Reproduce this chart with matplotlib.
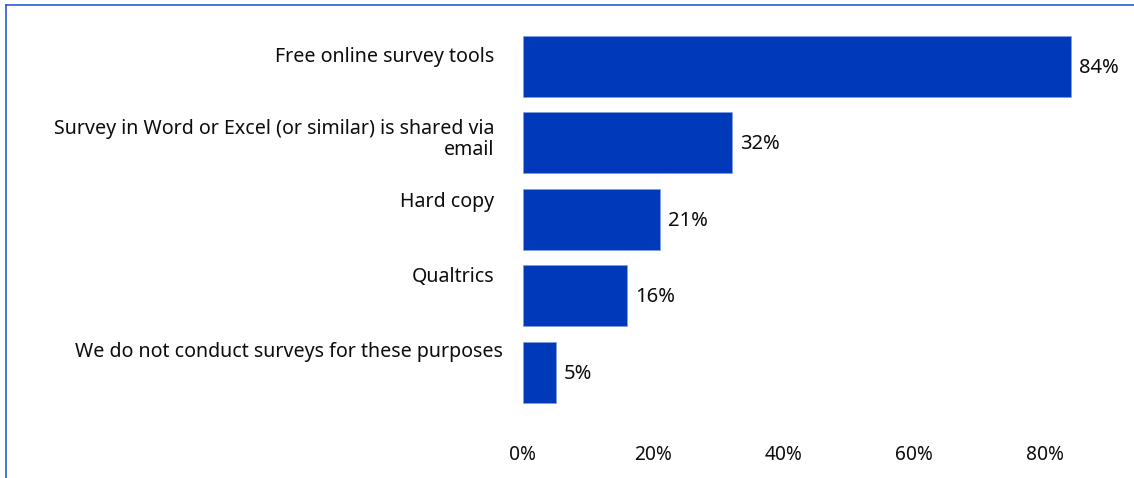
import matplotlib
matplotlib.use('Agg')
import matplotlib.pyplot as plt
from matplotlib.lines import Line2D

# data
categories = ['Free online survey tools',
              'Survey in Word or Excel (or similar) is shared via\nemail',
              'Hard copy',
              'Qualtrics',
              'We do not conduct surveys for these purposes']
values = [84, 32, 21, 16, 5]
ticks = [0, 20, 40, 60, 80]

# label placement (pixels): shift left from axis, shift up from bar centre
label_dx = [-29, -29, -29, -29, -20]
label_dy = [19.5, 23.5, 27.5, 28.5, 30.5]

bar_color = '#0039B9'
text_color = '#0d0d0d'
plt.rcParams['font.family'] = ['Noto Sans', 'DejaVu Sans']

fig = plt.figure(figsize=(11.34, 4.78), dpi=100)
W, H = 1134, 478
ax = fig.add_axes([523 / W, (478 - 410.3) / H, 587 / W, 382 / H])

y = list(range(len(values)))
ax.barh(y, values, height=0.8, color=bar_color, edgecolor='#7f9de0', linewidth=0.4)
ax.set_ylim(len(values) - 0.5, -0.5)
ax.set_xlim(0, 90)

# value labels
for i, v in enumerate(values):
    ax.annotate(f'{v}%', xy=(v, i), xytext=(8, -1.5), textcoords='offset pixels',
                ha='left', va='center', fontsize=14.5, color=text_color)

# category labels
for i, c in enumerate(categories):
    ax.annotate(c, xy=(0, i), xytext=(label_dx[i], label_dy[i]), textcoords='offset pixels',
                ha='right', va='top', fontsize=14.1, color=text_color, linespacing=1.04,
                multialignment='right', annotation_clip=False)

ax.set_xticks(ticks)
ax.set_xticklabels([f'{t}%' for t in ticks], fontsize=13.8, color=text_color)
ax.tick_params(axis='x', length=0, pad=25)
ax.set_yticks([])
for s in ax.spines.values():
    s.set_visible(False)

# frame lines on top and left
fig.add_artist(Line2D([6 / W, 1], [1 - 4.5 / H, 1 - 4.5 / H], color='#2a5bd7', lw=1.2))
fig.add_artist(Line2D([6 / W, 6 / W], [0, 1 - 4.5 / H], color='#2a5bd7', lw=1.2))

fig.savefig('out.png', dpi=100)
